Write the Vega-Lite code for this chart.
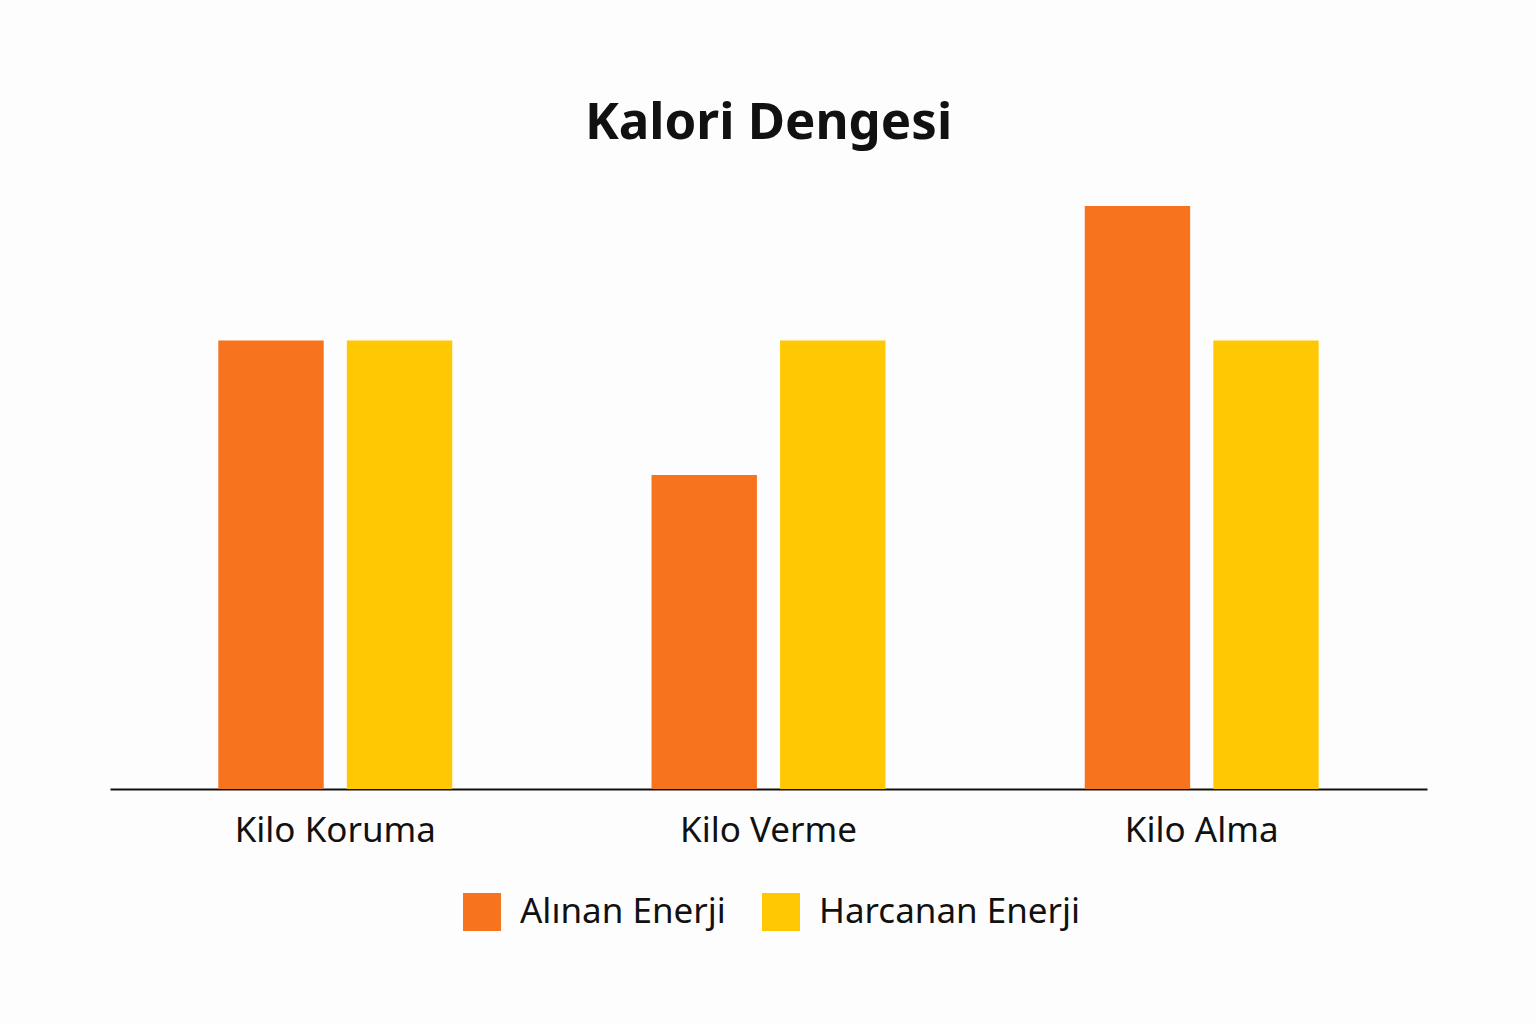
{
  "$schema": "https://vega.github.io/schema/vega-lite/v6.json",
  "description": "Kalori dengesi: alınan ve harcanan enerji karşılaştırması",
  "background": "#fdfdfd",
  "autosize": "none",
  "padding": {"left": 110, "top": 206, "right": 109, "bottom": 235},
  "width": 1317,
  "height": 583,
  "config": {"view": {"stroke": null}},
  "title": {
    "text": "Kalori Dengesi",
    "font": "Noto Sans",
    "fontSize": 51,
    "fontWeight": "bold",
    "color": "#111111",
    "anchor": "middle",
    "offset": 56
  },
  "data": {
    "values": [
      {"Durum": "Kilo Koruma", "Enerji": "Alınan Enerji", "Deger": 100},
      {"Durum": "Kilo Koruma", "Enerji": "Harcanan Enerji", "Deger": 100},
      {"Durum": "Kilo Verme", "Enerji": "Alınan Enerji", "Deger": 70},
      {"Durum": "Kilo Verme", "Enerji": "Harcanan Enerji", "Deger": 100},
      {"Durum": "Kilo Alma", "Enerji": "Alınan Enerji", "Deger": 130},
      {"Durum": "Kilo Alma", "Enerji": "Harcanan Enerji", "Deger": 100}
    ]
  },
  "mark": {"type": "bar"},
  "encoding": {
    "x": {
      "field": "Durum",
      "type": "nominal",
      "sort": ["Kilo Koruma", "Kilo Verme", "Kilo Alma"],
      "title": null,
      "scale": {"paddingInner": 0.46, "paddingOuter": 0.25},
      "axis": {
        "domainColor": "#111111",
        "domainWidth": 2,
        "ticks": false,
        "labelAngle": 0,
        "labelFont": "Noto Sans",
        "labelFontSize": 35,
        "labelColor": "#111111",
        "labelPadding": 24,
        "labelLimit": 400
      }
    },
    "xOffset": {
      "field": "Enerji",
      "type": "nominal",
      "scale": {"paddingInner": 0.18}
    },
    "y": {
      "field": "Deger",
      "type": "quantitative",
      "scale": {"domain": [0, 130]},
      "axis": null
    },
    "color": {
      "field": "Enerji",
      "type": "nominal",
      "title": null,
      "scale": {
        "domain": ["Alınan Enerji", "Harcanan Enerji"],
        "range": ["#f7731e", "#ffc803"]
      },
      "legend": {
        "orient": "none",
        "legendX": 353,
        "legendY": 687,
        "direction": "horizontal",
        "symbolType": "square",
        "symbolSize": 1444,
        "symbolStrokeWidth": 0,
        "labelFont": "Noto Sans",
        "labelFontSize": 35,
        "labelColor": "#111111",
        "labelOffset": 19,
        "labelLimit": 400,
        "columnPadding": 36
      }
    }
  }
}
